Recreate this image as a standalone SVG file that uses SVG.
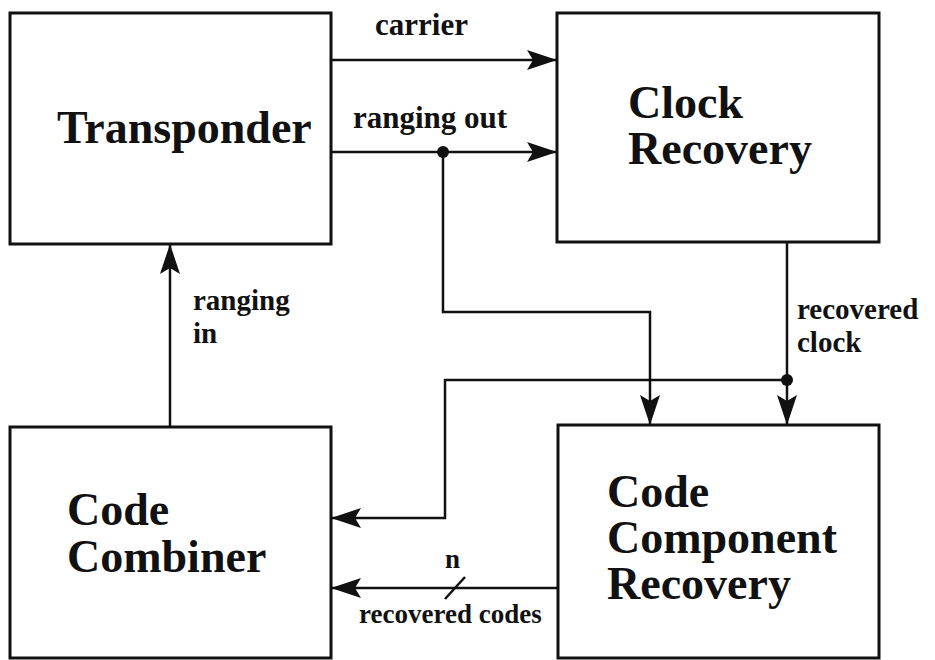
<svg xmlns="http://www.w3.org/2000/svg" width="935" height="660" viewBox="0 0 935 660">
<style>
.box{fill:#fff;stroke:#111;stroke-width:3}
.ln{fill:none;stroke:#111;stroke-width:2.5}
.t{font-family:"Liberation Serif","Times New Roman",serif;font-weight:bold;fill:#111}
.big{font-size:46px}
.lbl{font-size:31px}
.lb2{font-size:29px}
.sm{font-size:27px}
</style>
<defs>
<marker id="ah" viewBox="0 0 30 20" refX="30" refY="10" markerWidth="30" markerHeight="20" markerUnits="userSpaceOnUse" orient="auto">
<path d="M0,0 L30,10 L0,20 L6,10 Z" fill="#111"/>
</marker>
</defs>
<rect width="935" height="660" fill="#fff"/>
<g id="transponder">
<rect class="box" x="10" y="13" width="321" height="231"/>
<text class="t big" x="57" y="143">Transponder</text>
</g>
<g id="clock-recovery">
<rect class="box" x="557" y="13" width="322" height="229"/>
<text class="t big" x="628" y="118">Clock</text>
<text class="t big" x="628" y="164">Recovery</text>
</g>
<g id="code-combiner">
<rect class="box" x="10" y="427" width="321" height="231"/>
<text class="t big" x="67" y="525">Code</text>
<text class="t big" x="67" y="572">Combiner</text>
</g>
<g id="code-component-recovery">
<rect class="box" x="558" y="425" width="321" height="233"/>
<text class="t big" x="607" y="507">Code</text>
<text class="t big" x="607" y="553">Component</text>
<text class="t big" x="607" y="599">Recovery</text>
</g>
<g id="connectors">
<line class="ln" x1="331" y1="60" x2="557" y2="60" marker-end="url(#ah)"/>
<line class="ln" x1="331" y1="152" x2="557" y2="152" marker-end="url(#ah)"/>
<polyline class="ln" points="443,152 443,312 650,312 650,425" marker-end="url(#ah)"/>
<circle cx="443" cy="152" r="6" fill="#111"/>
<line class="ln" x1="787" y1="242" x2="787" y2="425" marker-end="url(#ah)"/>
<polyline class="ln" points="787,380 445,380 445,518 331,518" marker-end="url(#ah)"/>
<circle cx="787" cy="380" r="6" fill="#111"/>
<line class="ln" x1="558" y1="588" x2="331" y2="588" marker-end="url(#ah)"/>
<line class="ln" x1="445" y1="599" x2="465" y2="577"/>
<line class="ln" x1="170" y1="427" x2="170" y2="244" marker-end="url(#ah)"/>
<text class="t lbl" x="375" y="35">carrier</text>
<text class="t lbl" x="353" y="128">ranging out</text>
<text class="t lb2" x="193" y="310">ranging</text>
<text class="t lb2" x="193" y="343">in</text>
<text class="t lb2" x="797" y="319">recovered</text>
<text class="t lb2" x="797" y="352">clock</text>
<text class="t sm" x="445" y="568">n</text>
<text class="t sm" x="359" y="623">recovered codes</text>
</g>
</svg>
